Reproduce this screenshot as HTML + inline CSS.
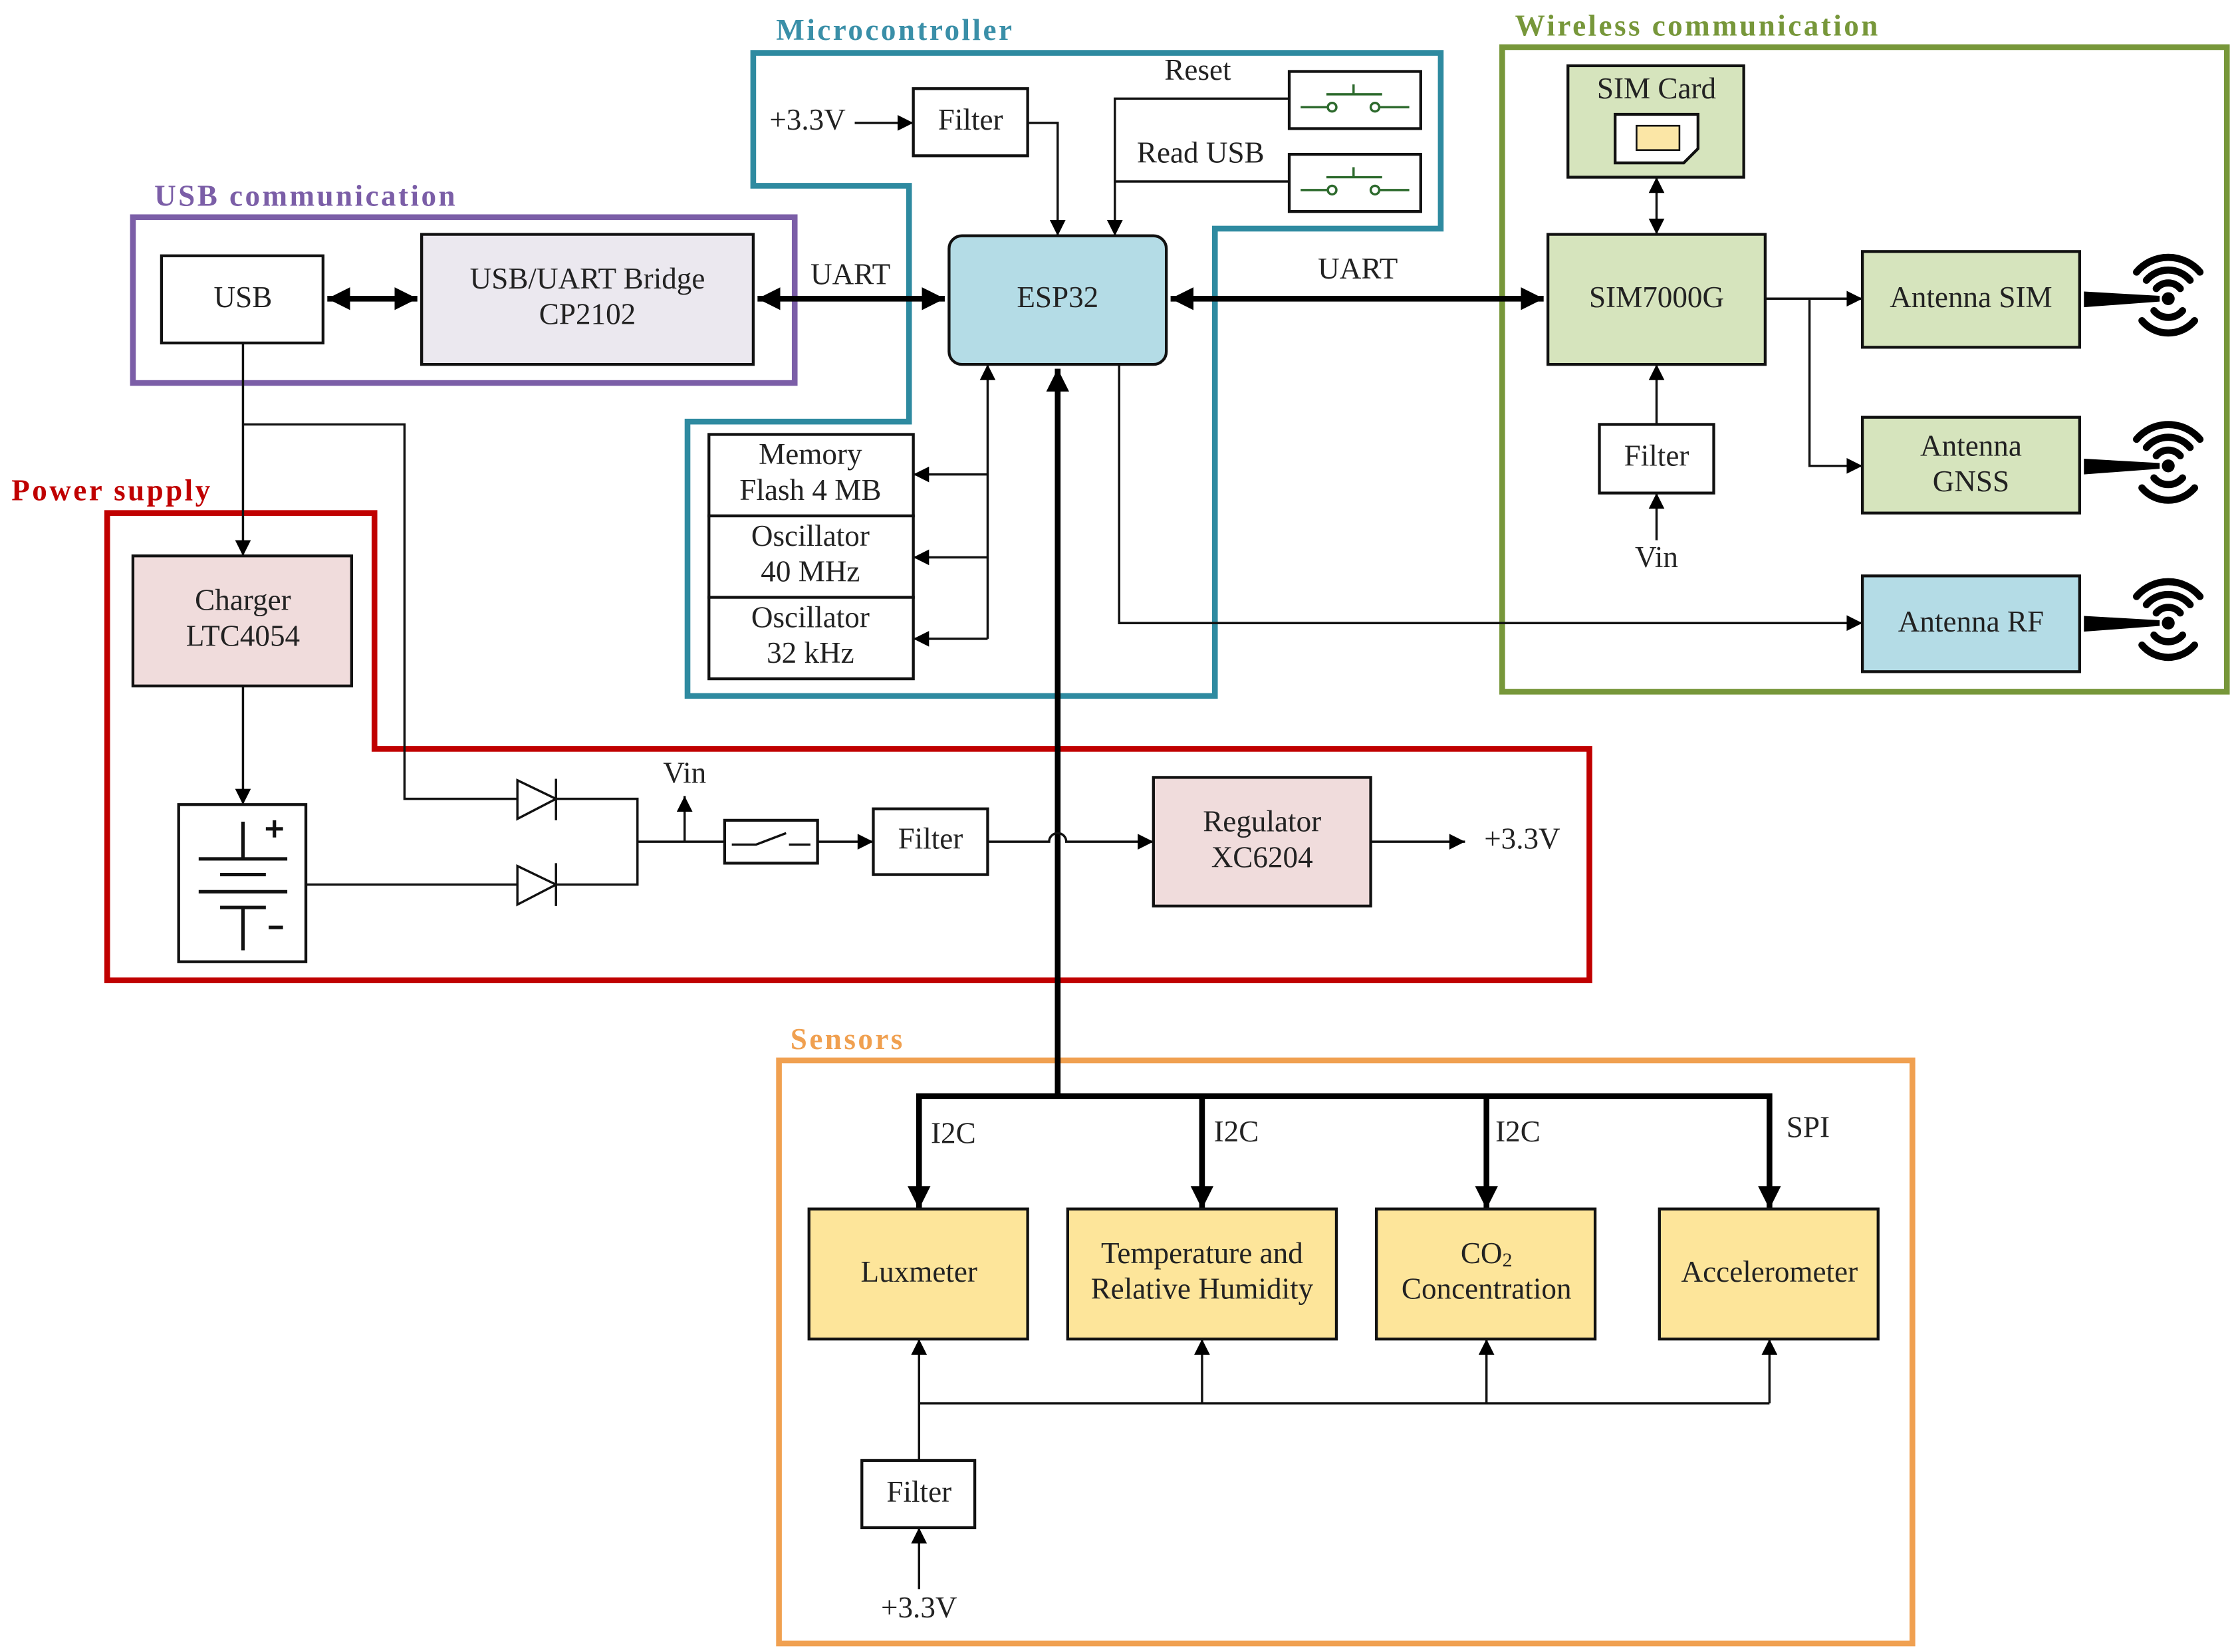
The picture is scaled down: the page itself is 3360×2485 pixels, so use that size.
<!DOCTYPE html>
<html><head><meta charset="utf-8"><style>
html,body{margin:0;padding:0;background:#fff}
svg{display:block}
text{font-family:"Liberation Serif",serif;fill:#222}
.t{font-size:21px;text-anchor:middle;dominant-baseline:middle}
.g{font-size:21px;font-weight:bold;letter-spacing:1.6px}
.b{stroke:#111;stroke-width:2}
.l{stroke:#111;stroke-width:1.6;fill:none}
.k{stroke:#000;stroke-width:4;fill:none}
.w{stroke:#000;stroke-width:5;fill:none;stroke-linecap:round}
</style></head><body>
<svg width="3360" height="2485" viewBox="0 0 1563 1156" preserveAspectRatio="none" xmlns="http://www.w3.org/2000/svg">
<defs>
<marker id="a" viewBox="0 0 10 10" refX="10" refY="5" markerWidth="12" markerHeight="11" markerUnits="userSpaceOnUse" orient="auto-start-reverse"><path d="M0,0L10,5L0,10z" fill="#000"/></marker>
<marker id="A" viewBox="0 0 10 10" refX="10" refY="5" markerWidth="16" markerHeight="16" markerUnits="userSpaceOnUse" orient="auto-start-reverse"><path d="M0,0L10,5L0,10z" fill="#000"/></marker>
<g id="ant">
<path d="M-59,-5L-6,-2L-6,2L-59,6z" fill="#000"/><circle cx="0" cy="0" r="4.5" fill="#000"/>
<path class="w" d="M-8.4,-7.1A11,11 0 0 1 8.4,-7.1M-15.3,-12.9A20,20 0 0 1 15.3,-12.9M-22.2,-18.6A29,29 0 0 1 22.2,-18.6"/>
<path class="w" d="M-10,8.4A13,13 0 0 0 10,8.4M-18.4,15.4A24,24 0 0 0 18.4,15.4"/>
</g>
</defs>

<path d="M527,37H1008V160H850V487H481V295H636V130H527Z" fill="none" stroke="#2e8aa0" stroke-width="4"/>
<text x="543" y="28" class="g" style="fill:#3a8fa8">Microcontroller</text>
<rect x="93" y="152" width="463" height="116" fill="none" stroke="#7b5ea7" stroke-width="4"/>
<text x="108" y="144" class="g" style="fill:#7b5ea7">USB communication</text>
<path d="M75,359H262V524H1112V686H75Z" fill="none" stroke="#c00000" stroke-width="4"/>
<text x="8" y="350" class="g" style="fill:#c00000">Power supply</text>
<rect x="1051" y="33" width="507" height="451" fill="none" stroke="#77973a" stroke-width="4"/>
<text x="1060" y="25" class="g" style="fill:#77973a">Wireless communication</text>
<rect x="545" y="742" width="793" height="408" fill="none" stroke="#f0a050" stroke-width="4"/>
<text x="553" y="734" class="g" style="fill:#f0a050">Sensors</text>

<line x1="229" y1="209" x2="292" y2="209" class="k" marker-start="url(#A)" marker-end="url(#A)"/>
<line x1="530" y1="209" x2="661" y2="209" class="k" marker-start="url(#A)" marker-end="url(#A)"/>
<text x="595" y="194" class="t">UART</text>
<line x1="819" y1="209" x2="1080" y2="209" class="k" marker-start="url(#A)" marker-end="url(#A)"/>
<text x="950" y="190" class="t">UART</text>
<line x1="598" y1="86" x2="639" y2="86" class="l" marker-end="url(#a)"/>
<text x="565" y="86" class="t">+3.3V</text>
<path d="M719,86H740V165" class="l" marker-end="url(#a)"/>
<path d="M902,69H780V165" class="l" marker-end="url(#a)"/>
<path d="M902,127H780" class="l"/>
<text x="838" y="51" class="t">Reset</text>
<text x="840" y="109" class="t">Read USB</text>
<line x1="740" y1="767" x2="740" y2="258" class="k" marker-end="url(#A)"/>
<path d="M643,767H1238" class="k"/>
<line x1="643" y1="765" x2="643" y2="846" class="k" marker-end="url(#A)"/>
<line x1="841" y1="765" x2="841" y2="846" class="k" marker-end="url(#A)"/>
<line x1="1040" y1="765" x2="1040" y2="846" class="k" marker-end="url(#A)"/>
<line x1="1238" y1="765" x2="1238" y2="846" class="k" marker-end="url(#A)"/>
<text x="667" y="795" class="t">I2C</text><text x="865" y="794" class="t">I2C</text><text x="1062" y="794" class="t">I2C</text><text x="1265" y="791" class="t">SPI</text>
<line x1="691" y1="447" x2="691" y2="255" class="l" marker-end="url(#a)"/>
<line x1="691" y1="332" x2="639" y2="332" class="l" marker-end="url(#a)"/>
<line x1="691" y1="390" x2="639" y2="390" class="l" marker-end="url(#a)"/>
<line x1="691" y1="447" x2="639" y2="447" class="l" marker-end="url(#a)"/>
<path d="M783,255V436H1303" class="l" marker-end="url(#a)"/>
<path d="M1235,209H1303" class="l" marker-end="url(#a)"/>
<path d="M1266,209V326H1303" class="l" marker-end="url(#a)"/>
<line x1="1159" y1="124" x2="1159" y2="164" class="l" marker-start="url(#a)" marker-end="url(#a)"/>
<line x1="1159" y1="297" x2="1159" y2="255" class="l" marker-end="url(#a)"/>
<line x1="1159" y1="378" x2="1159" y2="345" class="l" marker-end="url(#a)"/>
<text x="1159" y="392" class="t">Vin</text>
<use href="#ant" x="1517" y="209"/><use href="#ant" x="1517" y="326"/><use href="#ant" x="1517" y="436"/>

<path d="M170,240V389" class="l" marker-end="url(#a)"/>
<path d="M170,297H283V559H362" class="l"/>
<path d="M170,480V563" class="l" marker-end="url(#a)"/>
<path d="M214,619H362" class="l"/>
<path d="M362,546L389,559L362,573ZM362,606L389,619L362,633Z" fill="#fff" stroke="#111" stroke-width="1.6"/>
<path d="M389,545V574M389,604V634" class="l"/>
<path d="M389,559H446V619H389M446,589H507" class="l"/>
<line x1="479" y1="589" x2="479" y2="557" class="l" marker-end="url(#a)"/>
<text x="479" y="543" class="t">Vin</text>
<line x1="572" y1="589" x2="611" y2="589" class="l" marker-end="url(#a)"/>
<path d="M691,589H734A6,6 0 0 1 746,589H807" class="l" marker-end="url(#a)"/>
<line x1="959" y1="589" x2="1025" y2="589" class="l" marker-end="url(#a)"/>
<text x="1065" y="589" class="t">+3.3V</text>

<line x1="643" y1="1022" x2="643" y2="937" class="l" marker-end="url(#a)"/>
<path d="M643,982H1238" class="l"/>
<line x1="841" y1="982" x2="841" y2="937" class="l" marker-end="url(#a)"/>
<line x1="1040" y1="982" x2="1040" y2="937" class="l" marker-end="url(#a)"/>
<line x1="1238" y1="982" x2="1238" y2="937" class="l" marker-end="url(#a)"/>
<line x1="643" y1="1112" x2="643" y2="1069" class="l" marker-end="url(#a)"/>
<text x="643" y="1127" class="t">+3.3V</text>

<rect x="113" y="179" width="113" height="61" fill="#fff" class="b"/><text x="170" y="210" class="t">USB</text>
<rect x="295" y="164" width="232" height="91" fill="#ebe8ef" class="b"/><text x="411" y="197" class="t">USB/UART Bridge</text><text x="411" y="222" class="t">CP2102</text>
<rect x="664" y="165" width="152" height="90" rx="9" fill="#b4dce6" class="b"/><text x="740" y="210" class="t">ESP32</text>
<rect x="639" y="62" width="80" height="47" fill="#fff" class="b"/><text x="679" y="86" class="t">Filter</text>
<rect x="902" y="50" width="92" height="40" fill="#fff" class="b"/>
<rect x="902" y="108" width="92" height="40" fill="#fff" class="b"/>
<g stroke="#2d6a2d" stroke-width="1.6" fill="#fff">
<path d="M910,75H929M965,75H986M928,66H967M947,66V59M910,133H929M965,133H986M928,124H967M947,124V117" fill="none"/>
<circle cx="932" cy="75" r="3"/><circle cx="962" cy="75" r="3"/><circle cx="932" cy="133" r="3"/><circle cx="962" cy="133" r="3"/>
</g>
<rect x="496" y="304" width="143" height="57" fill="#fff" class="b"/><text x="567" y="320" class="t">Memory</text><text x="567" y="345" class="t">Flash 4 MB</text>
<rect x="496" y="361" width="143" height="57" fill="#fff" class="b"/><text x="567" y="377" class="t">Oscillator</text><text x="567" y="402" class="t">40 MHz</text>
<rect x="496" y="418" width="143" height="57" fill="#fff" class="b"/><text x="567" y="434" class="t">Oscillator</text><text x="567" y="459" class="t">32 kHz</text>

<rect x="1097" y="46" width="123" height="78" fill="#d6e4bd" class="b"/><text x="1159" y="64" class="t">SIM Card</text>
<path d="M1130,80H1188V104L1178,114H1130Z" fill="#fff" class="b"/>
<rect x="1145" y="88" width="30" height="17" fill="#fbe6a6" stroke="#111" stroke-width="1.2"/>
<rect x="1083" y="164" width="152" height="91" fill="#d6e4bd" class="b"/><text x="1159" y="210" class="t">SIM7000G</text>
<rect x="1303" y="176" width="152" height="67" fill="#d6e4bd" class="b"/><text x="1379" y="210" class="t">Antenna SIM</text>
<rect x="1303" y="292" width="152" height="67" fill="#d6e4bd" class="b"/><text x="1379" y="314" class="t">Antenna</text><text x="1379" y="339" class="t">GNSS</text>
<rect x="1303" y="403" width="152" height="67" fill="#b4dce6" class="b"/><text x="1379" y="437" class="t">Antenna RF</text>
<rect x="1119" y="297" width="80" height="48" fill="#fff" class="b"/><text x="1159" y="321" class="t">Filter</text>

<rect x="93" y="389" width="153" height="91" fill="#f0dcdc" class="b"/><text x="170" y="422" class="t">Charger</text><text x="170" y="447" class="t">LTC4054</text>
<rect x="125" y="563" width="89" height="110" fill="#fff" class="b"/>
<path d="M170,575V601M139,601H201M154,612H186M139,624H201M154,635H186M170,635V665M192,574V586M186,580H198M188,649H198" stroke="#111" stroke-width="2.4" fill="none"/>
<rect x="507" y="574" width="65" height="30" fill="#fff" class="b"/>
<path d="M512,591H529L550,583M552,591H567" class="l"/>
<rect x="611" y="566" width="80" height="46" fill="#fff" class="b"/><text x="651" y="589" class="t">Filter</text>
<rect x="807" y="544" width="152" height="90" fill="#f0dcdc" class="b"/><text x="883" y="577" class="t">Regulator</text><text x="883" y="602" class="t">XC6204</text>

<rect x="566" y="846" width="153" height="91" fill="#fde59a" class="b"/><text x="643" y="892" class="t">Luxmeter</text>
<rect x="747" y="846" width="188" height="91" fill="#fde59a" class="b"/><text x="841" y="879" class="t">Temperature and</text><text x="841" y="904" class="t">Relative Humidity</text>
<rect x="963" y="846" width="153" height="91" fill="#fde59a" class="b"/><text x="1040" y="879" class="t">CO<tspan font-size="14" dy="4">2</tspan></text><text x="1040" y="904" class="t">Concentration</text>
<rect x="1161" y="846" width="153" height="91" fill="#fde59a" class="b"/><text x="1238" y="892" class="t">Accelerometer</text>
<rect x="603" y="1022" width="79" height="47" fill="#fff" class="b"/><text x="643" y="1046" class="t">Filter</text>
</svg>
</body></html>
